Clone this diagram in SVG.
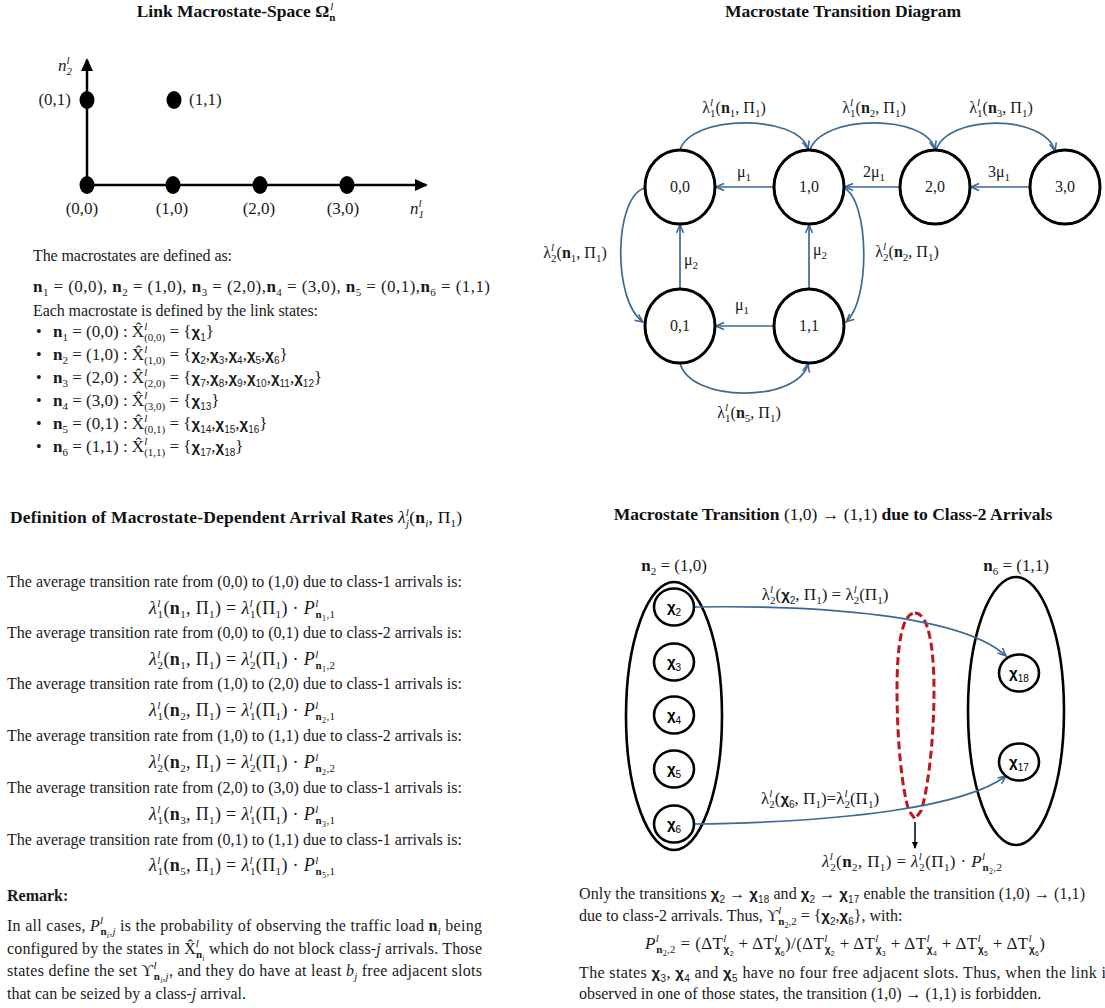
<svg xmlns="http://www.w3.org/2000/svg" width="1105" height="1008" viewBox="0 0 1105 1008">
<defs>
<style>
.t{font-family:"Liberation Serif","Times New Roman",serif;font-size:16px;fill:#1a1a1a}
.h{font-family:"Liberation Serif","Times New Roman",serif;font-size:17.5px;font-weight:bold;fill:#111}
.m{font-family:"Liberation Serif","Times New Roman",serif;font-size:17px;fill:#1a1a1a}
.mf{font-size:18px}
.nw{font-weight:normal}
.b{font-weight:bold}
.i{font-style:italic}
.up{font-size:11px;baseline-shift:7px}
.dn{font-size:11px;baseline-shift:-4px}
.dn2{font-size:8px;baseline-shift:-7px}
.chi{font-family:"Liberation Sans",Arial,sans-serif;font-weight:bold;font-size:15px}
.chs{font-family:"Liberation Sans",Arial,sans-serif;font-size:10px;baseline-shift:-4px}
.chs2{font-family:"Liberation Sans",Arial,sans-serif;font-size:7px;baseline-shift:-7px}
.chu{font-family:"Liberation Sans",Arial,sans-serif;font-weight:bold;font-size:10px;baseline-shift:-4px}
.axis{stroke:#000;stroke-width:2.5;fill:none}
.dot{fill:#000}
.st{fill:#fff;stroke:#000;stroke-width:3}
.ed{fill:none;stroke:#3c6a97;stroke-width:1.7}
.lbl{font-family:"Liberation Serif","Times New Roman",serif;font-size:16px;fill:#1a1a1a}
.ell{fill:none;stroke:#000;stroke-width:2.6}
.cs{fill:#fff;stroke:#000;stroke-width:2.6}
.red{fill:none;stroke:#c0161b;stroke-width:3;stroke-dasharray:8 4}
</style>
<marker id="ab" markerWidth="10" markerHeight="10" refX="9" refY="5" orient="auto" markerUnits="userSpaceOnUse"><path d="M1,1.5 L9,5 L1,8.5" fill="none" stroke="#3c6a97" stroke-width="1.6"/></marker>
<marker id="ak" markerWidth="14" markerHeight="12" refX="11" refY="6" orient="auto" markerUnits="userSpaceOnUse"><path d="M0,0 L13,6 L0,12 z" fill="#000"/></marker>
<marker id="ak2" markerWidth="8" markerHeight="8" refX="6" refY="4" orient="auto" markerUnits="userSpaceOnUse"><path d="M0,1 L7,4 L0,7 z" fill="#000"/></marker>
</defs>
<rect width="1105" height="1008" fill="#fff"/>

<!-- ===== Top-left: macrostate space ===== -->
<text class="h" x="236" y="17" text-anchor="middle">Link Macrostate-Space Ω<tspan class="dn">n</tspan><tspan class="up i nw" dx="-5">l</tspan></text>
<g id="axes">
<line class="axis" x1="87" y1="186" x2="87" y2="60" marker-end="url(#ak)"/>
<line class="axis" x1="87" y1="185" x2="426" y2="185" marker-end="url(#ak)"/>
<text class="m i" x="58" y="71">n<tspan class="up">l</tspan><tspan class="dn nw" dx="-3">2</tspan></text>
<text class="m i" x="410" y="214">n<tspan class="up">l</tspan><tspan class="dn nw" dx="-3">1</tspan></text>
</g>
<g id="pt-00"><ellipse class="dot" cx="87" cy="185" rx="7.5" ry="9"/><text class="m" x="82" y="214" text-anchor="middle">(0,0)</text></g>
<g id="pt-10"><ellipse class="dot" cx="173" cy="185" rx="7.5" ry="9"/><text class="m" x="172" y="214" text-anchor="middle">(1,0)</text></g>
<g id="pt-20"><ellipse class="dot" cx="260" cy="185" rx="7.5" ry="9"/><text class="m" x="259" y="214" text-anchor="middle">(2,0)</text></g>
<g id="pt-30"><ellipse class="dot" cx="347" cy="185" rx="7.5" ry="9"/><text class="m" x="343" y="214" text-anchor="middle">(3,0)</text></g>
<g id="pt-01"><ellipse class="dot" cx="87" cy="100" rx="7.5" ry="9"/><text class="m" x="71" y="105" text-anchor="end">(0,1)</text></g>
<g id="pt-11"><ellipse class="dot" cx="174" cy="100" rx="7.5" ry="9"/><text class="m" x="189" y="105">(1,1)</text></g>

<!-- ===== Macrostate definitions ===== -->
<g id="definitions">
<text class="t" x="33" y="261" textLength="199">The macrostates are defined as:</text>
<text class="m" x="33" y="292" textLength="457"><tspan class="b">n</tspan><tspan class="dn">1</tspan> = (0,0), <tspan class="b">n</tspan><tspan class="dn">2</tspan> = (1,0), <tspan class="b">n</tspan><tspan class="dn">3</tspan> = (2,0),<tspan class="b">n</tspan><tspan class="dn">4</tspan> = (3,0), <tspan class="b">n</tspan><tspan class="dn">5</tspan> = (0,1),<tspan class="b">n</tspan><tspan class="dn">6</tspan> = (1,1)</text>
<text class="t" x="33" y="316" textLength="285">Each macrostate is defined by the link states:</text>
<text class="t" x="36" y="337">•</text>
<text class="m" x="53" y="337"><tspan class="b">n</tspan><tspan class="dn">1</tspan> = (0,0) : X̂<tspan class="up i">l</tspan><tspan class="dn" dx="-3">(0,0)</tspan> = {<tspan class="chi">χ</tspan><tspan class="chs">1</tspan>}</text>
<text class="t" x="36" y="360">•</text>
<text class="m" x="53" y="360"><tspan class="b">n</tspan><tspan class="dn">2</tspan> = (1,0) : X̂<tspan class="up i">l</tspan><tspan class="dn" dx="-3">(1,0)</tspan> = {<tspan class="chi">χ</tspan><tspan class="chs">2</tspan>,<tspan class="chi">χ</tspan><tspan class="chs">3</tspan>,<tspan class="chi">χ</tspan><tspan class="chs">4</tspan>,<tspan class="chi">χ</tspan><tspan class="chs">5</tspan>,<tspan class="chi">χ</tspan><tspan class="chs">6</tspan>}</text>
<text class="t" x="36" y="383">•</text>
<text class="m" x="53" y="383"><tspan class="b">n</tspan><tspan class="dn">3</tspan> = (2,0) : X̂<tspan class="up i">l</tspan><tspan class="dn" dx="-3">(2,0)</tspan> = {<tspan class="chi">χ</tspan><tspan class="chs">7</tspan>,<tspan class="chi">χ</tspan><tspan class="chs">8</tspan>,<tspan class="chi">χ</tspan><tspan class="chs">9</tspan>,<tspan class="chi">χ</tspan><tspan class="chs">10</tspan>,<tspan class="chi">χ</tspan><tspan class="chs">11</tspan>,<tspan class="chi">χ</tspan><tspan class="chs">12</tspan>}</text>
<text class="t" x="36" y="406">•</text>
<text class="m" x="53" y="406"><tspan class="b">n</tspan><tspan class="dn">4</tspan> = (3,0) : X̂<tspan class="up i">l</tspan><tspan class="dn" dx="-3">(3,0)</tspan> = {<tspan class="chi">χ</tspan><tspan class="chs">13</tspan>}</text>
<text class="t" x="36" y="429">•</text>
<text class="m" x="53" y="429"><tspan class="b">n</tspan><tspan class="dn">5</tspan> = (0,1) : X̂<tspan class="up i">l</tspan><tspan class="dn" dx="-3">(0,1)</tspan> = {<tspan class="chi">χ</tspan><tspan class="chs">14</tspan>,<tspan class="chi">χ</tspan><tspan class="chs">15</tspan>,<tspan class="chi">χ</tspan><tspan class="chs">16</tspan>}</text>
<text class="t" x="36" y="452">•</text>
<text class="m" x="53" y="452"><tspan class="b">n</tspan><tspan class="dn">6</tspan> = (1,1) : X̂<tspan class="up i">l</tspan><tspan class="dn" dx="-3">(1,1)</tspan> = {<tspan class="chi">χ</tspan><tspan class="chs">17</tspan>,<tspan class="chi">χ</tspan><tspan class="chs">18</tspan>}</text>
</g>

<!-- ===== Top-right: transition diagram ===== -->
<text class="h" x="843" y="17" text-anchor="middle">Macrostate Transition Diagram</text>
<g id="connectors-transition">
<path class="ed" d="M680,150 C691,114 798,114 808,149" marker-end="url(#ab)"/>
<path class="ed" d="M810,150 C822,114 925,114 935,149" marker-end="url(#ab)"/>
<path class="ed" d="M936,150 C948,114 1045,114 1055,151" marker-end="url(#ab)"/>
<path class="ed" d="M774,187 L716,187" marker-end="url(#ab)"/>
<path class="ed" d="M900,187 L845,187" marker-end="url(#ab)"/>
<path class="ed" d="M1030,187 L971,187" marker-end="url(#ab)"/>
<path class="ed" d="M680,289 L680,225" marker-end="url(#ab)"/>
<path class="ed" d="M809,289 L809,225" marker-end="url(#ab)"/>
<path class="ed" d="M774,326 L716,326" marker-end="url(#ab)"/>
<path class="ed" d="M645,188 C614,196 612,300 643,322" marker-end="url(#ab)"/>
<path class="ed" d="M844,188 C869,200 871,300 846,322" marker-end="url(#ab)"/>
<path class="ed" d="M680,363 C690,403 798,403 808,364" marker-end="url(#ab)"/>
<text class="lbl" x="734" y="113" text-anchor="middle">λ<tspan class="up i">l</tspan><tspan class="dn" dx="-3">1</tspan>(<tspan class="b">n</tspan><tspan class="dn">1</tspan>, Π<tspan class="dn">1</tspan>)</text>
<text class="lbl" x="874" y="113" text-anchor="middle">λ<tspan class="up i">l</tspan><tspan class="dn" dx="-3">1</tspan>(<tspan class="b">n</tspan><tspan class="dn">2</tspan>, Π<tspan class="dn">1</tspan>)</text>
<text class="lbl" x="1001" y="113" text-anchor="middle">λ<tspan class="up i">l</tspan><tspan class="dn" dx="-3">1</tspan>(<tspan class="b">n</tspan><tspan class="dn">3</tspan>, Π<tspan class="dn">1</tspan>)</text>
<text class="lbl" x="744" y="177" text-anchor="middle">μ<tspan class="dn">1</tspan></text>
<text class="lbl" x="874" y="177" text-anchor="middle">2μ<tspan class="dn">1</tspan></text>
<text class="lbl" x="999" y="177" text-anchor="middle">3μ<tspan class="dn">1</tspan></text>
<text class="lbl" x="575" y="258" text-anchor="middle">λ<tspan class="up i">l</tspan><tspan class="dn" dx="-3">2</tspan>(<tspan class="b">n</tspan><tspan class="dn">1</tspan>, Π<tspan class="dn">1</tspan>)</text>
<text class="lbl" x="907" y="257" text-anchor="middle">λ<tspan class="up i">l</tspan><tspan class="dn" dx="-3">2</tspan>(<tspan class="b">n</tspan><tspan class="dn">2</tspan>, Π<tspan class="dn">1</tspan>)</text>
<text class="lbl" x="684" y="265">μ<tspan class="dn">2</tspan></text>
<text class="lbl" x="813" y="255">μ<tspan class="dn">2</tspan></text>
<text class="lbl" x="742" y="310" text-anchor="middle">μ<tspan class="dn">1</tspan></text>
<text class="lbl" x="749" y="418" text-anchor="middle">λ<tspan class="up i">l</tspan><tspan class="dn" dx="-3">1</tspan>(<tspan class="b">n</tspan><tspan class="dn">5</tspan>, Π<tspan class="dn">1</tspan>)</text>
</g>
<g id="node-00"><ellipse class="st" cx="680" cy="187" rx="35" ry="37"/><text class="lbl" x="680" y="192" text-anchor="middle">0,0</text></g>
<g id="node-10"><ellipse class="st" cx="809" cy="187" rx="35" ry="37"/><text class="lbl" x="809" y="192" text-anchor="middle">1,0</text></g>
<g id="node-20"><ellipse class="st" cx="935" cy="187" rx="35" ry="37"/><text class="lbl" x="935" y="192" text-anchor="middle">2,0</text></g>
<g id="node-30"><ellipse class="st" cx="1065" cy="187" rx="35" ry="37"/><text class="lbl" x="1065" y="192" text-anchor="middle">3,0</text></g>
<g id="node-01"><ellipse class="st" cx="680" cy="326" rx="35" ry="37"/><text class="lbl" x="680" y="331" text-anchor="middle">0,1</text></g>
<g id="node-11"><ellipse class="st" cx="809" cy="326" rx="35" ry="37"/><text class="lbl" x="809" y="331" text-anchor="middle">1,1</text></g>

<!-- ===== Bottom-left: arrival rates ===== -->
<g id="rates">
<text class="h" x="10" y="523" textLength="452">Definition of Macrostate-Dependent Arrival Rates <tspan class="i nw">λ</tspan><tspan class="up i nw">l</tspan><tspan class="dn i nw" dx="-3">j</tspan><tspan class="nw">(</tspan>n<tspan class="dn i nw">i</tspan><tspan class="nw">, Π</tspan><tspan class="dn nw">1</tspan><tspan class="nw">)</tspan></text>

<text class="t" x="7" y="587">The average transition rate from (0,0) to (1,0) due to class-1 arrivals is:</text>
<text class="m mf" x="242" y="614" text-anchor="middle" textLength="186"><tspan class="i">λ</tspan><tspan class="up i">l</tspan><tspan class="dn" dx="-3">1</tspan>(<tspan class="b">n</tspan><tspan class="dn">1</tspan>, Π<tspan class="dn">1</tspan>) = <tspan class="i">λ</tspan><tspan class="up i">l</tspan><tspan class="dn" dx="-3">1</tspan>(Π<tspan class="dn">1</tspan>) ·  <tspan class="i">P</tspan><tspan class="up i">l</tspan><tspan class="dn b" dx="-3">n</tspan><tspan class="dn2">1</tspan><tspan class="dn">,1</tspan></text>

<text class="t" x="7" y="638">The average transition rate from (0,0) to (0,1) due to class-2 arrivals is:</text>
<text class="m mf" x="242" y="665" text-anchor="middle" textLength="186"><tspan class="i">λ</tspan><tspan class="up i">l</tspan><tspan class="dn" dx="-3">2</tspan>(<tspan class="b">n</tspan><tspan class="dn">1</tspan>, Π<tspan class="dn">1</tspan>) = <tspan class="i">λ</tspan><tspan class="up i">l</tspan><tspan class="dn" dx="-3">2</tspan>(Π<tspan class="dn">1</tspan>) ·  <tspan class="i">P</tspan><tspan class="up i">l</tspan><tspan class="dn b" dx="-3">n</tspan><tspan class="dn2">1</tspan><tspan class="dn">,2</tspan></text>

<text class="t" x="7" y="689">The average transition rate from (1,0) to (2,0) due to class-1 arrivals is:</text>
<text class="m mf" x="242" y="716" text-anchor="middle" textLength="186"><tspan class="i">λ</tspan><tspan class="up i">l</tspan><tspan class="dn" dx="-3">1</tspan>(<tspan class="b">n</tspan><tspan class="dn">2</tspan>, Π<tspan class="dn">1</tspan>) = <tspan class="i">λ</tspan><tspan class="up i">l</tspan><tspan class="dn" dx="-3">1</tspan>(Π<tspan class="dn">1</tspan>) ·  <tspan class="i">P</tspan><tspan class="up i">l</tspan><tspan class="dn b" dx="-3">n</tspan><tspan class="dn2">2</tspan><tspan class="dn">,1</tspan></text>

<text class="t" x="7" y="741">The average transition rate from (1,0) to (1,1) due to class-2 arrivals is:</text>
<text class="m mf" x="242" y="768" text-anchor="middle" textLength="186"><tspan class="i">λ</tspan><tspan class="up i">l</tspan><tspan class="dn" dx="-3">2</tspan>(<tspan class="b">n</tspan><tspan class="dn">2</tspan>, Π<tspan class="dn">1</tspan>) = <tspan class="i">λ</tspan><tspan class="up i">l</tspan><tspan class="dn" dx="-3">2</tspan>(Π<tspan class="dn">1</tspan>) ·  <tspan class="i">P</tspan><tspan class="up i">l</tspan><tspan class="dn b" dx="-3">n</tspan><tspan class="dn2">2</tspan><tspan class="dn">,2</tspan></text>

<text class="t" x="7" y="793">The average transition rate from (2,0) to (3,0) due to class-1 arrivals is:</text>
<text class="m mf" x="242" y="820" text-anchor="middle" textLength="186"><tspan class="i">λ</tspan><tspan class="up i">l</tspan><tspan class="dn" dx="-3">1</tspan>(<tspan class="b">n</tspan><tspan class="dn">3</tspan>, Π<tspan class="dn">1</tspan>) = <tspan class="i">λ</tspan><tspan class="up i">l</tspan><tspan class="dn" dx="-3">1</tspan>(Π<tspan class="dn">1</tspan>) ·  <tspan class="i">P</tspan><tspan class="up i">l</tspan><tspan class="dn b" dx="-3">n</tspan><tspan class="dn2">3</tspan><tspan class="dn">,1</tspan></text>

<text class="t" x="7" y="845">The average transition rate from (0,1) to (1,1) due to class-1 arrivals is:</text>
<text class="m mf" x="242" y="871" text-anchor="middle" textLength="186"><tspan class="i">λ</tspan><tspan class="up i">l</tspan><tspan class="dn" dx="-3">1</tspan>(<tspan class="b">n</tspan><tspan class="dn">5</tspan>, Π<tspan class="dn">1</tspan>) = <tspan class="i">λ</tspan><tspan class="up i">l</tspan><tspan class="dn" dx="-3">1</tspan>(Π<tspan class="dn">1</tspan>) ·  <tspan class="i">P</tspan><tspan class="up i">l</tspan><tspan class="dn b" dx="-3">n</tspan><tspan class="dn2">5</tspan><tspan class="dn">,1</tspan></text>

<text class="t b" x="7" y="901">Remark:</text>
<text class="t" x="7" y="931" textLength="475">In all cases, <tspan class="i">P</tspan><tspan class="up i">l</tspan><tspan class="dn b" dx="-3">n</tspan><tspan class="dn2 i">i</tspan><tspan class="dn i">,j</tspan> is the probability of observing the traffic load <tspan class="b">n</tspan><tspan class="dn i">i</tspan> being</text>
<text class="t" x="7" y="954" textLength="475">configured by the states in X̂<tspan class="up i">l</tspan><tspan class="dn b" dx="-3">n</tspan><tspan class="dn2 i">i</tspan> which do not block class-<tspan class="i">j</tspan> arrivals. Those</text>
<text class="t" x="7" y="976" textLength="475">states define the set ϒ<tspan class="up i">l</tspan><tspan class="dn b" dx="-3">n</tspan><tspan class="dn2 i">i</tspan><tspan class="dn i">,j</tspan>, and they do have at least <tspan class="i">b</tspan><tspan class="dn i">j</tspan> free adjacent slots</text>
<text class="t" x="7" y="999">that can be seized by a class-<tspan class="i">j</tspan> arrival.</text>
</g>

<!-- ===== Bottom-right: microstate transition ===== -->
<text class="h" x="833" y="520" text-anchor="middle">Macrostate Transition <tspan class="nw">(1,0) → (1,1)</tspan> due to Class-2 Arrivals</text>
<g id="set-n2"><ellipse class="ell" cx="674" cy="716" rx="48" ry="134"/><text class="m" x="674" y="571" text-anchor="middle"><tspan class="b">n</tspan><tspan class="dn">2</tspan> = (1,0)</text></g>
<g id="set-n6"><ellipse class="ell" cx="1016" cy="711" rx="48" ry="134"/><text class="m" x="1016" y="571" text-anchor="middle"><tspan class="b">n</tspan><tspan class="dn">6</tspan> = (1,1)</text></g>
<g id="forbidden"><path class="red" d="M915,613 C929,613 934,650 934,690 C934,740 928,790 921,811 L915,819 L909,811 C902,790 897,740 897,690 C897,650 901,613 915,613 Z"/></g>
<g id="connectors-micro">
<path class="ed" d="M694,607 C820,605 962,615 1006,656" marker-end="url(#ab)"/>
<path class="ed" d="M694,824 C850,822 966,806 1006,776" marker-end="url(#ab)"/>
<line x1="915" y1="822" x2="915" y2="848" stroke="#000" stroke-width="1.5" marker-end="url(#ak2)"/>
<text class="m" x="825" y="600" text-anchor="middle">λ<tspan class="up i">l</tspan><tspan class="dn" dx="-3">2</tspan>(<tspan class="chi">χ</tspan><tspan class="chs">2</tspan>, Π<tspan class="dn">1</tspan>) = λ<tspan class="up i">l</tspan><tspan class="dn" dx="-3">2</tspan>(Π<tspan class="dn">1</tspan>)</text>
<text class="m" x="820" y="804" text-anchor="middle">λ<tspan class="up i">l</tspan><tspan class="dn" dx="-3">2</tspan>(<tspan class="chi">χ</tspan><tspan class="chs">6</tspan>, Π<tspan class="dn">1</tspan>)=λ<tspan class="up i">l</tspan><tspan class="dn" dx="-3">2</tspan>(Π<tspan class="dn">1</tspan>)</text>
<text class="m" x="912" y="867" text-anchor="middle" textLength="180"><tspan class="i">λ</tspan><tspan class="up i">l</tspan><tspan class="dn" dx="-3">2</tspan>(<tspan class="b">n</tspan><tspan class="dn">2</tspan>, Π<tspan class="dn">1</tspan>) = <tspan class="i">λ</tspan><tspan class="up i">l</tspan><tspan class="dn" dx="-3">2</tspan>(Π<tspan class="dn">1</tspan>) ·  <tspan class="i">P</tspan><tspan class="up i">l</tspan><tspan class="dn b" dx="-3">n</tspan><tspan class="dn2">2</tspan><tspan class="dn">,2</tspan></text>
</g>
<g id="chi2"><ellipse class="cs" cx="674" cy="607" rx="20" ry="18.5"/><text x="674" y="612" text-anchor="middle"><tspan class="chi">χ</tspan><tspan class="chs">2</tspan></text></g>
<g id="chi3"><ellipse class="cs" cx="674" cy="662" rx="20" ry="18.5"/><text x="674" y="667" text-anchor="middle"><tspan class="chi">χ</tspan><tspan class="chs">3</tspan></text></g>
<g id="chi4"><ellipse class="cs" cx="674" cy="715" rx="20" ry="18.5"/><text x="674" y="720" text-anchor="middle"><tspan class="chi">χ</tspan><tspan class="chs">4</tspan></text></g>
<g id="chi5"><ellipse class="cs" cx="674" cy="769" rx="20" ry="18.5"/><text x="674" y="774" text-anchor="middle"><tspan class="chi">χ</tspan><tspan class="chs">5</tspan></text></g>
<g id="chi6"><ellipse class="cs" cx="674" cy="824" rx="20" ry="18.5"/><text x="674" y="829" text-anchor="middle"><tspan class="chi">χ</tspan><tspan class="chs">6</tspan></text></g>
<g id="chi18"><ellipse class="cs" cx="1019" cy="673" rx="20" ry="18.5"/><text x="1019" y="678" text-anchor="middle"><tspan class="chi">χ</tspan><tspan class="chs">18</tspan></text></g>
<g id="chi17"><ellipse class="cs" cx="1019" cy="762" rx="20" ry="18.5"/><text x="1019" y="767" text-anchor="middle"><tspan class="chi">χ</tspan><tspan class="chs">17</tspan></text></g>

<g id="explanation">
<text class="t" x="579" y="899" textLength="506">Only the transitions <tspan class="chi">χ</tspan><tspan class="chs">2</tspan> → <tspan class="chi">χ</tspan><tspan class="chs">18</tspan> and <tspan class="chi">χ</tspan><tspan class="chs">2</tspan> → <tspan class="chi">χ</tspan><tspan class="chs">17</tspan> enable the transition (1,0) → (1,1)</text>
<text class="t" x="579" y="921">due to class-2 arrivals. Thus, ϒ<tspan class="up i">l</tspan><tspan class="dn b" dx="-3">n</tspan><tspan class="dn2">2</tspan><tspan class="dn">,2</tspan> = {<tspan class="chi">χ</tspan><tspan class="chs">2</tspan>,<tspan class="chi">χ</tspan><tspan class="chs">6</tspan>}, with:</text>
<text class="m" x="845" y="949" text-anchor="middle" textLength="400"><tspan class="i">P</tspan><tspan class="up i">l</tspan><tspan class="dn b" dx="-3">n</tspan><tspan class="dn2">2</tspan><tspan class="dn">,2</tspan> = (ΔT<tspan class="up i">l</tspan><tspan class="chu" dx="-3">χ</tspan><tspan class="chs2">2</tspan> + ΔT<tspan class="up i">l</tspan><tspan class="chu" dx="-3">χ</tspan><tspan class="chs2">6</tspan>)/(ΔT<tspan class="up i">l</tspan><tspan class="chu" dx="-3">χ</tspan><tspan class="chs2">2</tspan> + ΔT<tspan class="up i">l</tspan><tspan class="chu" dx="-3">χ</tspan><tspan class="chs2">3</tspan> + ΔT<tspan class="up i">l</tspan><tspan class="chu" dx="-3">χ</tspan><tspan class="chs2">4</tspan> + ΔT<tspan class="up i">l</tspan><tspan class="chu" dx="-3">χ</tspan><tspan class="chs2">5</tspan> + ΔT<tspan class="up i">l</tspan><tspan class="chu" dx="-3">χ</tspan><tspan class="chs2">6</tspan>)</text>
<text class="t" x="579" y="978" textLength="527">The states <tspan class="chi">χ</tspan><tspan class="chs">3</tspan>, <tspan class="chi">χ</tspan><tspan class="chs">4</tspan> and <tspan class="chi">χ</tspan><tspan class="chs">5</tspan> have no four free adjacent slots. Thus, when the link i</text>
<text class="t" x="579" y="999">observed in one of those states, the transition (1,0) → (1,1) is forbidden.</text>
</g>
</svg>
